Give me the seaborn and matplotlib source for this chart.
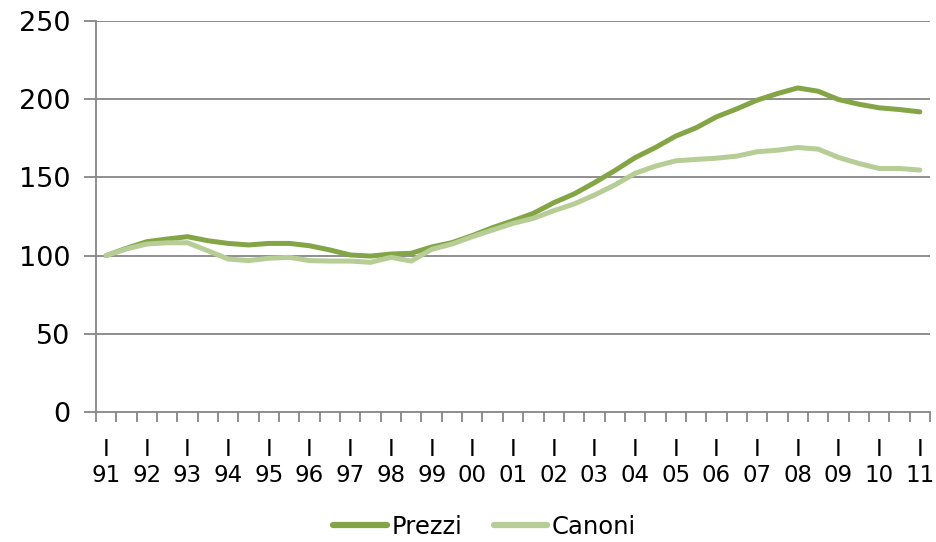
import matplotlib
matplotlib.use("Agg")
import matplotlib.pyplot as plt
import seaborn as sns
import pandas as pd
import numpy as np

prezzi = [100, 104.7, 108.9, 110.6, 112.1, 109.5, 107.8, 106.8, 107.8, 107.8,
          106.3, 103.6, 100.4, 99.7, 101.0, 101.5, 105.5, 108.3, 112.8, 117.9,
          122.3, 127.0, 133.8, 139.4, 146.6, 154.3, 162.6, 169.1, 176.4, 181.7,
          188.7, 193.8, 199.4, 203.6, 207.2, 205.1, 199.8, 196.8, 194.5, 193.4,
          191.9]
canoni = [100, 104.3, 107.4, 108.2, 108.2, 103.1, 97.8, 96.8, 98.3, 98.9,
          96.8, 96.5, 96.5, 95.7, 98.9, 96.5, 104.0, 107.4, 112.1, 116.4,
          120.6, 123.8, 128.7, 133.0, 138.7, 145.1, 152.6, 157.2, 160.6, 161.5,
          162.3, 163.6, 166.4, 167.4, 169.1, 168.1, 162.8, 158.9, 155.7, 155.7,
          154.7]
series_names = ["Prezzi", "Canoni"]
tick_labels = [f"I\n{y % 100:02d}" for y in range(1991, 2012)]

n = len(prezzi)
df = pd.DataFrame({
    "idx": list(range(n)) * 2,
    "val": prezzi + canoni,
    "serie": [series_names[0]] * n + [series_names[1]] * n,
})

sns.set_style("white")
plt.rcParams["font.family"] = ["DejaVu Sans"]
plt.rcParams["text.color"] = "black"
plt.rcParams["xtick.labelcolor"] = "black"
plt.rcParams["ytick.labelcolor"] = "black"

fig = plt.figure(figsize=(9.36, 5.42), dpi=100)
ax = fig.add_axes([96 / 936, 130 / 542, 834 / 936, 391 / 542])

gray = "#868686"
for yv in [50, 100, 150, 200, 250]:
    ax.axhline(yv, color=gray, lw=1.3, zorder=0)

sns.lineplot(data=df, x="idx", y="val", hue="serie",
             palette={"Prezzi": "#83A546", "Canoni": "#B6CD95"},
             linewidth=3.6, ax=ax, legend=True, solid_capstyle="round")

ax.set_xlim(-0.5, n - 0.5)
ax.set_ylim(0, 250)
ax.set_yticks([0, 50, 100, 150, 200, 250])
ax.tick_params(axis="y", length=9, width=1.3, color=gray, labelsize=19.5,
               pad=9.5, left=True, direction="out", labelcolor="black")

ax.set_xticks(list(range(0, n, 2)))
ax.set_xticklabels(tick_labels, fontsize=16.5, linespacing=1.2)
ax.set_xticks(np.arange(-0.5, n, 1), minor=True)
ax.tick_params(axis="x", which="major", length=0, pad=18.5, labelcolor="black")
ax.tick_params(axis="x", which="minor", length=7, width=1.3, color=gray,
               bottom=True, direction="out")

ax.set_xlabel("")
ax.set_ylabel("")
for s in ["top", "right"]:
    ax.spines[s].set_visible(False)
for s in ["left", "bottom"]:
    ax.spines[s].set_color(gray)
    ax.spines[s].set_linewidth(1.3)

leg = ax.legend(loc="center", bbox_to_anchor=(0.466, -0.294), ncol=2,
                frameon=False, fontsize=17.5, handlelength=2.2,
                handletextpad=0.2, columnspacing=1.3)
for line in leg.get_lines():
    line.set_linewidth(4.5)
    line.set_solid_capstyle("round")
for t in leg.get_texts():
    t.set_color("black")

fig.savefig("out.png", dpi=100)
